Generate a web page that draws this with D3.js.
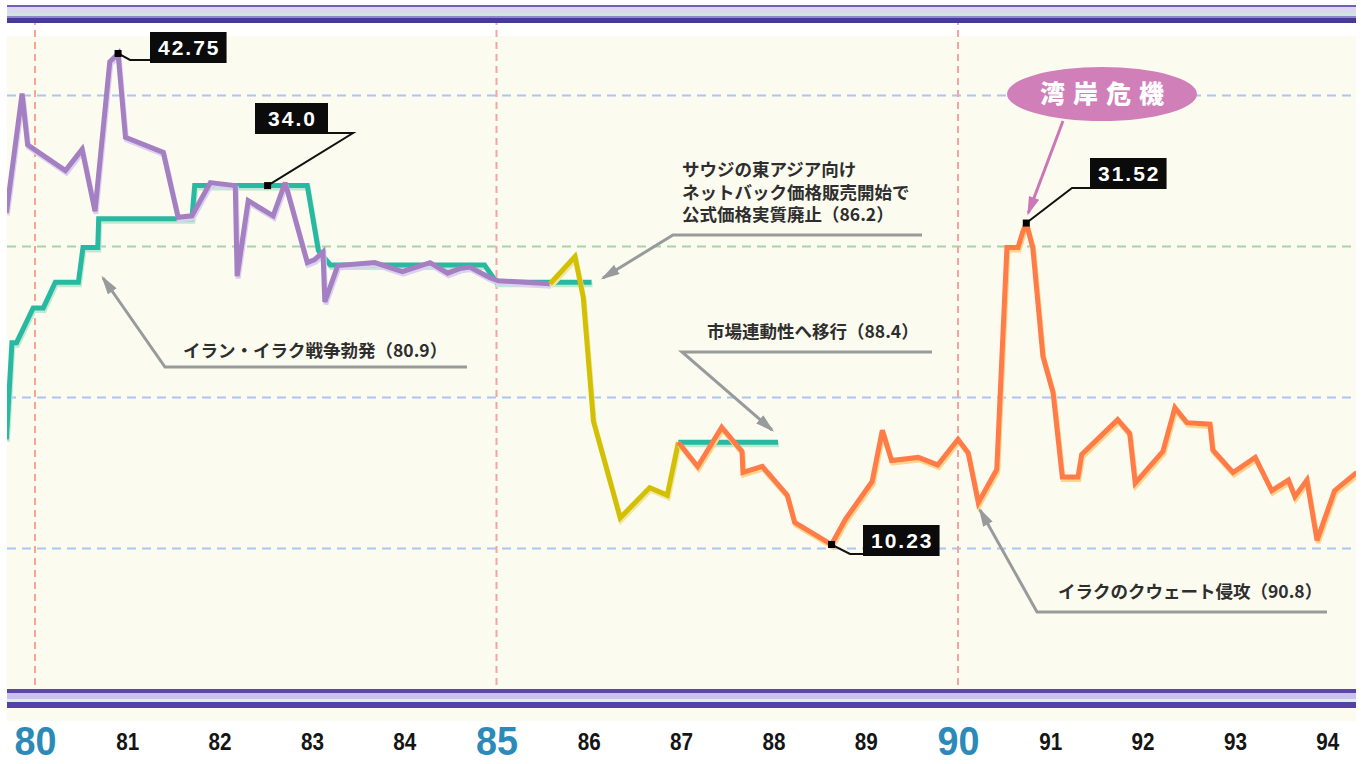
<!DOCTYPE html>
<html>
<head>
<meta charset="utf-8">
<script src="https://cdn.jsdelivr.net/npm/d3@7"></script>
<style>
  body { margin: 0; background: #fff; }
  svg { display: block; font-family: "Liberation Sans", Arial, sans-serif; }
  .jp { font-family: "Noto Sans CJK JP", sans-serif; font-weight: 700; fill: #2e2e2e; }
</style>
</head>
<body>
<svg id="chart" width="1364" height="764"></svg>
<script>
// crude oil prices, $/bbl (x = decimal year)
let spotYears = [1979.69, 1979.86, 1979.92, 1980.33, 1980.51, 1980.65, 1980.81, 1980.90, 1980.98, 1981.39,
                 1981.55, 1981.70, 1981.90, 1982.17, 1982.19, 1982.31, 1982.58, 1982.71, 1982.95, 1983.03,
                 1983.12, 1983.14, 1983.28, 1983.68, 1983.98, 1984.28, 1984.47, 1984.60, 1984.71, 1984.93,
                 1985.02, 1985.58];
let spotPrices = [32.2, 40.1, 36.7, 35.0, 36.4, 32.3, 42.2, 42.75, 37.2, 36.2,
                  31.9, 32.0, 34.2, 34.0, 28.0, 33.0, 32.0, 34.2, 28.9, 29.1,
                  29.6, 26.3, 28.7, 28.9, 28.3, 28.9, 28.2, 28.5, 28.6, 27.9,
                  27.7, 27.5];

let officialYears = [1979.69, 1979.75, 1979.80, 1979.98, 1980.09, 1980.22, 1980.47, 1980.52, 1980.68, 1980.69,
                     1981.70, 1981.73, 1982.95, 1983.07, 1983.20, 1984.87, 1985.00, 1986.03];
let officialPrices = [17.2, 23.6, 23.6, 25.9, 25.9, 27.6, 27.6, 29.9, 29.9, 31.8,
                      31.8, 34.0, 34.0, 29.7, 28.75, 28.75, 27.6, 27.6];
let official2Years = [1986.97, 1988.05];
let official2Prices = [17.0, 17.0];

let netbackYears = [1985.58, 1985.85, 1985.94, 1986.05, 1986.34, 1986.66, 1986.85, 1986.97];
let netbackPrices = [27.5, 29.3, 26.6, 18.4, 12.0, 14.0, 13.5, 17.0];

let marketYears = [1986.97, 1987.18, 1987.44, 1987.66, 1987.67, 1987.88, 1988.15, 1988.23, 1988.63, 1988.78,
                   1989.07, 1989.18, 1989.28, 1989.57, 1989.78, 1990.00, 1990.11, 1990.22, 1990.42, 1990.53,
                   1990.65, 1990.70, 1990.74, 1990.81, 1990.92, 1991.03, 1991.13, 1991.30, 1991.34, 1991.73,
                   1991.86, 1991.92, 1992.22, 1992.35, 1992.48, 1992.73, 1992.76, 1992.98, 1993.22, 1993.40,
                   1993.58, 1993.65, 1993.78, 1993.89, 1994.08, 1994.32];
let marketPrices = [17.0, 15.4, 18.0, 16.4, 15.0, 15.4, 13.5, 11.7, 10.23, 11.9,
                    14.4, 17.8, 15.8, 16.0, 15.5, 17.2, 16.3, 13.0, 15.2, 29.9,
                    29.9, 30.9, 31.52, 29.9, 22.7, 20.3, 14.7, 14.7, 16.2, 18.5,
                    17.6, 14.3, 16.4, 19.3, 18.3, 18.2, 16.5, 15.0, 16.0, 13.8,
                    14.5, 13.4, 14.5, 10.5, 13.8, 15.0];

let yearTicks = d3.range(1980, 1995);
let majorYears = [1980, 1985, 1990];
let gridValues = [10, 20, 30, 40];

let peakYears = [1980.90, 1982.52, 1990.74, 1988.63];
let peakValues = [42.75, 34.0, 31.52, 10.23];
let peakLabels = ['42.75', '34.0', '31.52', '10.23'];

let noteTexts = [
  ['イラン・イラク戦争勃発（80.9）'],
  ['サウジの東アジア向け', 'ネットバック価格販売開始で', '公式価格実質廃止（86.2）'],
  ['市場連動性へ移行（88.4）'],
  ['イラクのクウェート侵攻（90.8）']
];
let crisisLabel = '湾岸危機';

// ---- layout ----
let plotLeft = 7, plotRight = 1356, plotTop = 23, plotBottom = 689;

let x = d3.scaleLinear().domain([1980, 1990]).range([35, 958]);
let y = d3.scaleLinear().domain([10, 40]).range([548, 95]);

let svg = d3.select('#chart');
let defs = svg.append('defs');

defs.append('clipPath').attr('id', 'plotClip')
    .append('rect')
    .attr('x', plotLeft).attr('y', plotTop)
    .attr('width', plotRight - plotLeft).attr('height', plotBottom - plotTop);

function arrowMarker(id, color) {
  defs.append('marker')
      .attr('id', id)
      .attr('viewBox', '0 0 14 8')
      .attr('refX', 12).attr('refY', 4)
      .attr('markerWidth', 6.5).attr('markerHeight', 3.6)
      .attr('orient', 'auto')
      .append('path')
      .attr('d', 'M0,0 L14,4 L0,8 Z')
      .attr('fill', color);
}
arrowMarker('arrGray', '#979b9b');
arrowMarker('arrPink', '#cc78b6');

// background
svg.append('rect')
   .attr('x', plotLeft).attr('y', 36)
   .attr('width', plotRight - plotLeft).attr('height', plotBottom - 36)
   .attr('fill', '#fcfbef');
svg.append('rect')
   .attr('x', plotLeft).attr('y', 708)
   .attr('width', plotRight - plotLeft).attr('height', 13)
   .attr('fill', '#fcfbef');

// horizontal dashed grid
let grid = svg.append('g')
   .attr('transform', 'translate(' + plotLeft + ',0)')
   .call(d3.axisLeft(y).tickValues(gridValues).tickSize(-(plotRight - plotLeft)).tickFormat(''));
grid.select('.domain').remove();
grid.selectAll('.tick line')
    .attr('stroke', d => d === 30 ? '#a4d6a6' : '#acc6f2')
    .attr('stroke-width', 2)
    .attr('stroke-dasharray', '9,6');

// vertical dashed year lines
svg.append('g').selectAll('line')
   .data(majorYears)
   .enter()
   .append('line')
   .attr('x1', d => x(d)).attr('x2', d => x(d))
   .attr('y1', 18).attr('y2', plotBottom + 2)
   .attr('stroke', (d, i) => i === 0 ? '#f7a58c' : '#f5a3a3')
   .attr('stroke-width', 2)
   .attr('stroke-dasharray', '7,5');

// series
let line = d3.line().x(d => x(d[0])).y(d => y(d[1]));
let lines = svg.append('g').attr('clip-path', 'url(#plotClip)');

function drawSeries(years, values, color, shadow) {
  let pts = d3.zip(years, values);
  lines.append('path')
       .attr('d', line(pts))
       .attr('fill', 'none')
       .attr('stroke', shadow)
       .attr('stroke-width', 5)
       .attr('stroke-linejoin', 'miter')
       .attr('stroke-miterlimit', 3)
       .attr('transform', 'translate(1,2.5)');
  lines.append('path')
       .attr('d', line(pts))
       .attr('fill', 'none')
       .attr('stroke', color)
       .attr('stroke-width', 5)
       .attr('stroke-linejoin', 'miter')
       .attr('stroke-miterlimit', 3);
}
drawSeries(officialYears, officialPrices, '#27b9a1', '#bfe9d2');
drawSeries(official2Years, official2Prices, '#27b9a1', '#bfe9d2');
drawSeries(spotYears, spotPrices, '#a47fc1', '#dcd0f2');
drawSeries(netbackYears, netbackPrices, '#d3c004', '#efe7a0');
drawSeries(marketYears, marketPrices, '#ff7b48', '#ffd58c');

// stripe bands top and bottom
let topStripes = [[5, 7, '#6f62b2'], [7, 13, '#dcd6ee'], [13, 16, '#d0e7dd'], [16, 18, '#9185c9'], [18, 23, '#463a97']];
let bottomStripes = [[689, 693, '#5a45aa'], [693, 699, '#cbc1ea'], [699, 702, '#dbefe3'], [702, 708, '#5540a8']];
svg.append('g').selectAll('rect')
   .data(topStripes.concat(bottomStripes))
   .enter()
   .append('rect')
   .attr('x', plotLeft).attr('width', plotRight - plotLeft)
   .attr('y', d => d[0]).attr('height', d => d[1] - d[0])
   .attr('fill', d => d[2]);

// year labels
let axis = svg.append('g')
   .call(d3.axisBottom(x).tickValues(yearTicks).tickSize(0).tickFormat(d => String(d).slice(2)));
axis.select('.domain').remove();
axis.selectAll('.tick text')
    .attr('dy', 0)
    .attr('y', d => majorYears.includes(d) ? 755 : 750)
    .attr('font-family', '"Liberation Sans Narrow", "Liberation Sans", Arial, sans-serif')
    .attr('font-size', d => majorYears.includes(d) ? 40 : 24)
    .attr('font-weight', 'bold')
    .attr('fill', d => majorYears.includes(d) ? '#2b8ab8' : '#151515')
    .attr('textLength', d => majorYears.includes(d) ? 42 : 23)
    .attr('lengthAdjust', 'spacingAndGlyphs');

// gray callouts (text position, underline y, underline x-range, arrow tip)
let noteLayout = [
  { tx: 183, ty: 357, uy: 367, ux0: 165, ux1: 467, tip: [103, 278] },
  { tx: 682, ty: 176, uy: 235, ux0: 673, ux1: 922, tip: [603, 278] },
  { tx: 707, ty: 338, uy: 352, ux0: 682, ux1: 932, tip: [772, 430] },
  { tx: 1058, ty: 598, uy: 612, ux0: 1037, ux1: 1327, tip: [980, 510] }
];
let notes = svg.append('g');
noteLayout.forEach((n, i) => {
  notes.append('path')
       .attr('d', d3.line()([[n.ux1, n.uy], [n.ux0, n.uy], n.tip]))
       .attr('fill', 'none')
       .attr('stroke', '#979b9b')
       .attr('stroke-width', 3)
       .attr('marker-end', 'url(#arrGray)');
  notes.append('g').selectAll('text')
       .data(noteTexts[i])
       .enter()
       .append('text')
       .attr('class', 'jp')
       .attr('x', n.tx)
       .attr('y', (d, j) => n.ty + j * 22.5)
       .attr('font-size', 17.5)
       .text(d => d);
});

// Gulf crisis bubble
svg.append('path')
   .attr('d', d3.line()([[1063, 121], [x(1990.74) + 2, y(31.52) - 10]]))
   .attr('stroke', '#cc78b6')
   .attr('stroke-width', 3)
   .attr('marker-end', 'url(#arrPink)');
svg.append('ellipse')
   .attr('cx', 1102).attr('cy', 94).attr('rx', 95).attr('ry', 27)
   .attr('fill', '#d07fb9');
svg.append('text')
   .attr('x', 1106).attr('y', 103)
   .attr('text-anchor', 'middle')
   .attr('font-family', '"Noto Sans CJK JP", sans-serif')
   .attr('font-weight', 900)
   .attr('font-size', 25)
   .attr('letter-spacing', 8)
   .attr('fill', '#fff')
   .text(crisisLabel);

// black value tags (box top-left and leader elbow)
let tagLayout = [
  { bx: 150, by: 32, elbow: [130, 60], end: 'left' },
  { bx: 255, by: 103, elbow: [353, 133], end: 'right' },
  { bx: 1090, by: 158, elbow: [1072, 188], end: 'left' },
  { bx: 863, by: 525, elbow: [850, 554], end: 'left' }
];
let tags = svg.append('g');
peakLabels.forEach((lab, i) => {
  let t = tagLayout[i];
  let mx = x(peakYears[i]), my = y(peakValues[i]);
  let g = tags.append('g');
  let txt = g.append('text')
     .attr('font-size', 21)
     .attr('font-weight', 'bold')
     .attr('letter-spacing', 2)
     .attr('fill', '#fff')
     .attr('text-anchor', 'middle')
     .attr('y', t.by + 23)
     .text(lab);
  let w = Math.max(73, txt.node().getComputedTextLength() + 14);
  let h = 31;
  txt.attr('x', t.bx + w / 2 + 1);
  let endX = t.end === 'left' ? t.bx : t.bx + w;
  let endY = t.end === 'left' ? t.elbow[1] : t.by + h - 1;
  g.insert('path', 'text')
   .attr('d', d3.line()([[mx, my], t.elbow, [endX, endY]]))
   .attr('fill', 'none')
   .attr('stroke', '#111')
   .attr('stroke-width', 2);
  g.insert('rect', 'text')
   .attr('x', t.bx).attr('y', t.by)
   .attr('width', w).attr('height', h)
   .attr('fill', '#0b0b0b');
  g.append('rect')
   .attr('x', mx - 3.5).attr('y', my - 3.5)
   .attr('width', 7).attr('height', 7)
   .attr('fill', '#000');
});
</script>
</body>
</html>
